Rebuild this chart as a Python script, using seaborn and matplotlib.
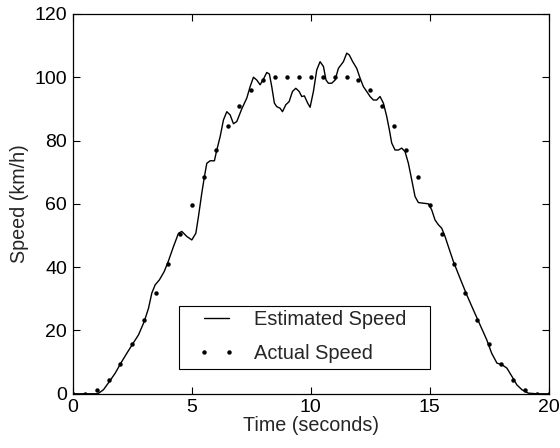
import numpy as np
import pandas as pd
import matplotlib
matplotlib.use("Agg")
import matplotlib.pyplot as plt
from matplotlib.patches import Rectangle
from matplotlib.legend_handler import HandlerLine2D
import seaborn as sns

# Estimated speed
est_time = [0, 0.5, 1.05, 1.29, 1.54, 1.78, 2.02, 2.27, 2.52, 2.76, 3.0, 3.18, 3.32, 3.46, 3.64,
            3.84, 4.02, 4.23, 4.44, 4.58, 4.79, 5.0, 5.17, 5.28, 5.42, 5.53, 5.63, 5.77, 5.95,
            6.05, 6.19, 6.33, 6.47, 6.61, 6.75, 6.89, 7.1, 7.31, 7.45, 7.59, 7.73, 7.87, 8.01,
            8.15, 8.26, 8.36, 8.47, 8.57, 8.71, 8.81, 8.95, 9.09, 9.23, 9.37, 9.51, 9.62, 9.73,
            9.87, 9.97, 10.11, 10.25, 10.39, 10.53, 10.64, 10.74, 10.88, 11.02, 11.16, 11.37,
            11.51, 11.62, 11.76, 11.93, 12.07, 12.21, 12.35, 12.49, 12.63, 12.77, 12.91, 13.05,
            13.19, 13.3, 13.4, 13.54, 13.68, 13.82, 13.96, 14.1, 14.24, 14.38, 14.52, 14.73,
            14.94, 15.08, 15.22, 15.36, 15.5, 15.64, 15.78, 15.99, 16.27, 16.55, 16.83, 17.11,
            17.39, 17.6, 17.82, 18.03, 18.24, 18.45, 18.66, 18.87, 19.14, 19.5, 20]
est_speed = [0, 0, 0, 1.3, 3.9, 6.5, 9.7, 12.8, 15.8, 18.6, 22.8, 27, 31.8, 34.4, 36,
             38.6, 42, 46.5, 50.7, 51.3, 49.7, 48.6, 50.7, 56, 63.4, 68.6, 72.8, 73.6, 73.6,
             77, 81.2, 86.5, 89.1, 88.1, 85.3, 86, 90, 93.4, 97, 100, 99.1, 97.6, 99.4,
             101.5, 101, 97, 91.8, 90.7, 90.2, 89.1, 91.3, 92.3, 95.5, 96.5, 95.5, 93.9, 94.1,
             91.8, 90.5, 95.5, 102.3, 104.9, 103.4, 99.1, 98.1, 98.1, 99.1, 102.8, 104.9,
             107.6, 107, 104.9, 102.8, 99.7, 97, 95.5, 93.9, 92.8, 92.8, 93.9, 91.8,
             87.6, 83.4, 79.2, 77, 77, 77.6, 76.5, 72.8, 67.6, 62.3, 60.4, 60.2,
             60, 58.1, 54.9, 53.4, 52.3, 49.7, 46.5, 41.8, 36.5, 31.3, 26.5, 21.8,
             17.1, 12.8, 9.7, 9.2, 8.1, 5.5, 2.8, 1.3, 0.2, 0, 0]

# Actual speed, every 0.5 s
act_time = [i * 0.5 for i in range(41)]
act_speed = [0, 0, 1.3, 4.2, 9.4, 15.8, 23.4, 31.8, 41, 50.4, 59.6, 68.6, 77, 84.6, 91, 96,
             99.2, 100, 100, 100, 100, 100, 100, 100, 99.2, 96, 91, 84.6, 77, 68.6, 59.6,
             50.4, 41, 31.8, 23.4, 15.8, 9.4, 4.2, 1.3, 0, 0]

x_ticks = [0, 5, 10, 15, 20]
y_ticks = [0, 20, 40, 60, 80, 100, 120]

sns.set_style("ticks")
plt.rcParams["font.family"] = ["Liberation Sans", "DejaVu Sans"]
plt.rcParams["xtick.direction"] = "in"
plt.rcParams["ytick.direction"] = "in"

fig = plt.figure(figsize=(5.6, 4.48), dpi=100)
ax = fig.add_axes([0.13, 0.121, 0.850, 0.848])

est_df = pd.DataFrame({"t": est_time, "v": est_speed})
act_df = pd.DataFrame({"t": act_time, "v": act_speed})

sns.lineplot(data=est_df, x="t", y="v", ax=ax, color="black", linewidth=1.0,
             label="Estimated Speed", sort=False, estimator=None)
sns.lineplot(data=act_df, x="t", y="v", ax=ax, color="black", linestyle="",
             marker="o", markersize=3.2, markeredgewidth=0,
             label="Actual Speed", sort=False, estimator=None)

ax.set_xlim(0, 20)
ax.set_ylim(0, 120)
ax.set_xticks(x_ticks)
ax.set_yticks(y_ticks)
ax.set_xticklabels([str(v) for v in x_ticks])
ax.set_yticklabels([str(v) for v in y_ticks])
ax.set_xlabel("Time (seconds)", fontsize=14.2, labelpad=0)
ax.set_ylabel("Speed (km/h)", fontsize=14.2, labelpad=4)
ax.tick_params(axis="both", labelsize=14, length=5, width=0.8, colors="black",
               top=True, right=True, pad=4)
for s in ax.spines.values():
    s.set_visible(True)
    s.set_linewidth(0.9)
    s.set_color("black")

# legend box
box = Rectangle((0.224, 0.066), 0.526, 0.1656, transform=ax.transAxes,
                facecolor="white", edgecolor="black", linewidth=0.8, zorder=4)
ax.add_patch(box)

handles, labels = ax.get_legend_handles_labels()
leg = ax.legend(handles, labels, loc="center left", bbox_to_anchor=(0.2757, 0.1505),
                borderaxespad=0, fontsize=14.4, frameon=False,
                numpoints=2, handlelength=1.25, handletextpad=1.25,
                borderpad=0, labelspacing=0.76,
                handler_map={h: HandlerLine2D(marker_pad=0) for h in handles})
leg.set_zorder(5)

fig.savefig("out.png", dpi=100)
